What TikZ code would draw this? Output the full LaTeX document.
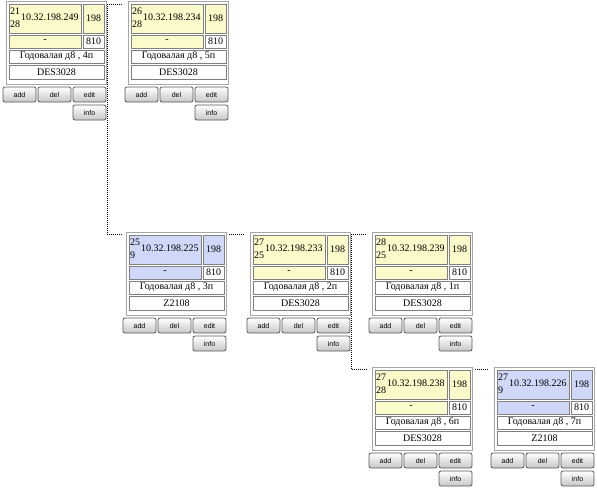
\documentclass[tikz,border=0pt]{standalone}
\usepackage{fontspec}
\setmainfont{Liberation Serif}
\newfontfamily\btnfont{Liberation Sans}
\usetikzlibrary{positioning,calc}
\definecolor{ipyellow}{RGB}{250,250,202}
\definecolor{ipblue}{RGB}{208,216,250}
\tikzset{
  card/.style   = {draw=black!35, fill=white, line width=1pt, inner sep=0pt, outer sep=0pt, minimum width=100pt, minimum height=83pt, anchor=north west},
  cell/.style   = {draw=black!50, line width=0.8pt, inner sep=0pt, outer sep=0pt, anchor=north west, font=\fontsize{10}{12}\selectfont},
  idtxt/.style  = {font=\fontsize{10}{13.3}\selectfont, align=left, inner sep=0pt, anchor=north west},
  iptxt/.style  = {font=\fontsize{10}{12}\selectfont, inner sep=0pt, anchor=base west},
  btn/.style    = {draw=black!65, top color=white, bottom color=black!22, rounded corners=2pt, line width=0.8pt, minimum width=33pt, minimum height=15pt, inner sep=0pt, outer sep=0pt, anchor=north west, font=\btnfont\fontsize{7}{8}\selectfont},
  link/.style   = {line width=1pt, dash pattern=on 1pt off 1pt},
}
% one device card: name, x, y, id top, id bottom, ip, colour, address, model
\newcommand{\devcard}[9]{%
  \node[card] (#1) at (#2,#3) {};
  \node[cell, fill=#7, minimum width=72pt, minimum height=29pt] (#1-ip) at ($(#1.north west)+(3,3)$) {};
  \node[cell, fill=#7, minimum width=21pt, minimum height=29pt] (#1-vl) at ($(#1.north west)+(77,3)$) {198};
  \node[cell, fill=#7, minimum width=72pt, minimum height=13pt] (#1-mac) at ($(#1.north west)+(3,34)$) {-};
  \node[cell, fill=white, minimum width=21pt, minimum height=13pt] (#1-pt) at ($(#1.north west)+(77,34)$) {810};
  \node[cell, fill=white, minimum width=95pt, minimum height=13pt] (#1-addr) at ($(#1.north west)+(3,49)$) {#8};
  \node[cell, fill=white, minimum width=95pt, minimum height=14pt] (#1-model) at ($(#1.north west)+(3,64)$) {#9};
  \node[idtxt] (#1-id) at ($(#1-ip.north west)+(1,3.5)$) {#4\\#5};
  \node[iptxt] (#1-iptxt) at ($(#1.north west)+(15,19.7)$) {#6};
  \node[btn] (#1-add) at ($(#1.north west)+(-3,86)$) {add};
  \node[btn, right=2pt of #1-add] (#1-del) {del};
  \node[btn, right=2pt of #1-del] (#1-edit) {edit};
  \node[btn, below=3pt of #1-edit] (#1-info) {info};
}

\begin{document}
\begin{tikzpicture}[x=1pt,y=-1pt]
  \useasboundingbox (0,0) rectangle (597,501);

  \devcard{c1}{6}{1}{21}{28}{10.32.198.249}{ipyellow}{Годовалая д8 , 4п}{DES3028}
  \devcard{c2}{128}{1}{26}{28}{10.32.198.234}{ipyellow}{Годовалая д8 , 5п}{DES3028}
  \devcard{c3}{126}{232}{25}{9}{10.32.198.225}{ipblue}{Годовалая д8 , 3п}{Z2108}
  \devcard{c4}{250}{232}{27}{25}{10.32.198.233}{ipyellow}{Годовалая д8 , 2п}{DES3028}
  \devcard{c5}{372}{232}{28}{25}{10.32.198.239}{ipyellow}{Годовалая д8 , 1п}{DES3028}
  \devcard{c6}{372}{367}{27}{28}{10.32.198.238}{ipyellow}{Годовалая д8 , 6п}{DES3028}
  \devcard{c7}{494}{367}{27}{9}{10.32.198.226}{ipblue}{Годовалая д8 , 7п}{Z2108}

  % tree links
  \draw[link] ($(c1.north east)+(1,3)$) -- ($(c2.north west)+(-5,3)$);
  \draw[link] ($(c1.north east)+(1,3)$) |- ($(c3.north west)+(-3,2)$);
  \draw[link] ($(c3.north east)+(3,2)$) -- ($(c4.north west)+(-5,2)$);
  \draw[link] ($(c4.north east)+(1,2)$) -- ($(c5.north west)+(-5,2)$);
  \draw[link] ($(c4.north east)+(1,2)$) |- ($(c6.north west)+(-5,2.5)$);
  \draw[link] ($(c6.north east)+(3,2.5)$) -- ($(c7.north west)+(-5,2.5)$);
\end{tikzpicture}
\end{document}
